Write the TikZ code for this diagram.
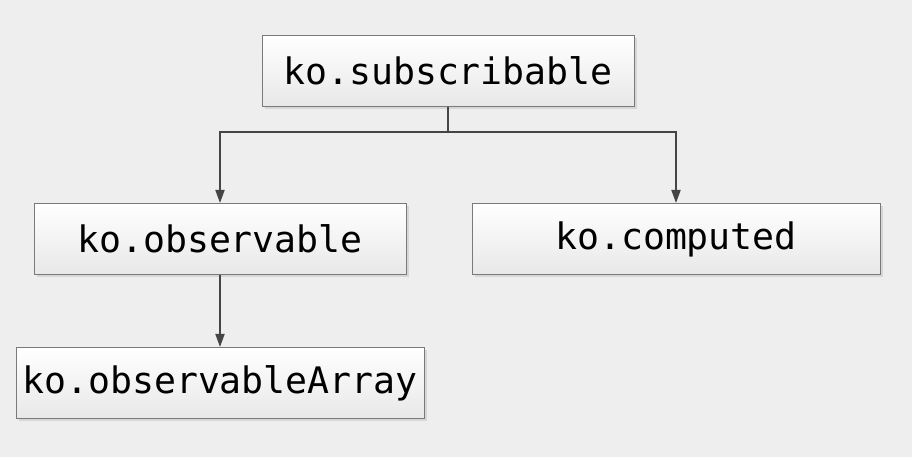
\documentclass[tikz,border=0pt]{standalone}
\usepackage{fontspec}
\setmonofont{DejaVu Sans Mono}
\usepackage{tikz}
\usetikzlibrary{arrows.meta,positioning,shadows}
\definecolor{canvas}{HTML}{EEEEEE}
\definecolor{edge}{HTML}{7A7A7A}
\definecolor{wire}{HTML}{454545}
\definecolor{boxbot}{HTML}{E8E8E8}
\definecolor{shade}{HTML}{D6D6D6}
\tikzset{link/.style={-{Triangle[length=13pt,width=9pt]},line width=1.8pt,draw=wire},
  cls/.style={draw=edge,line width=1pt,top color=white,bottom color=boxbot,inner sep=0pt,
    font=\fontsize{36.5}{40}\selectfont\ttfamily,text=black,minimum height=71pt,
    drop shadow={shadow xshift=2.5pt,shadow yshift=-2.5pt,fill=shade,opacity=1}}}
\begin{document}
\begin{tikzpicture}[x=1pt,y=1pt]
\fill[canvas] (0,0) rectangle (912,457);
\node[cls,minimum width=372pt] (sub) at (448,386) {ko.subscribable};
\node[cls,minimum width=372pt] (obs) at (220,218) {ko.observable};
\node[cls,minimum width=408pt] (comp) at (676,218) {ko.computed};
\node[cls,minimum width=408pt] (arr) at (220,74) {ko.observableArray};
\coordinate[below=25pt of sub] (fork);
\draw[link] (sub.south) -- (fork) -| (obs.north);
\draw[link] (fork) -| (comp.north);
\draw[link] (obs.south) -- (arr.north);
\end{tikzpicture}
\end{document}
